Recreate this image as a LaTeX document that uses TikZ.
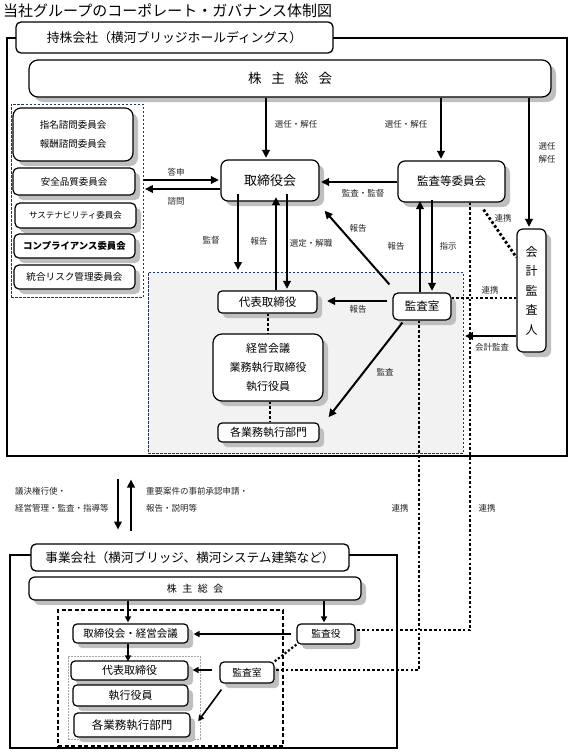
\documentclass[tikz,border=0pt]{standalone}
\usepackage{fontspec}
\setmainfont{Noto Sans CJK JP}
\usetikzlibrary{shadows,arrows.meta}
\definecolor{navy}{HTML}{1F3864}
\definecolor{shade}{HTML}{BFBFBF}
\definecolor{lightbg}{HTML}{F2F2F2}
\newcommand{\fsz}[1]{\fontsize{#1}{#1}\selectfont}
\begin{document}
\begin{tikzpicture}[x=1pt,y=-1pt,
 box/.style={draw=black, line width=1.2pt, fill=white, inner sep=0pt, rounded corners=#1, align=center,
   drop shadow={shadow xshift=5pt,shadow yshift=-5pt,fill=shade,opacity=1}},
 box/.default=6pt,
 plain/.style={draw=black, line width=1.3pt, fill=white, inner sep=0pt, rounded corners=#1, align=center},
 plain/.default=6pt,
 arr/.style={line width=2pt, -{Triangle[length=8pt,width=7.5pt]}, shorten >=1.5pt},
 arrs/.style={line width=1.6pt, -{Triangle[length=6pt,width=6pt]}, shorten >=1pt},
 dotline/.style={line width=2.8pt, dash pattern=on 2.6pt off 2.2pt},
 lbl/.style={font=\fsz{8.5}, inner sep=0pt, text=black!85},
]
\useasboundingbox (0,0) rectangle (573,755);

% title
\node[anchor=west, font=\fsz{15}, inner sep=0pt] (title) at (3,10.5) {当社グループのコーポレート・ガバナンス体制図};

% ===== holding company =====
\node[draw, line width=1.3pt, minimum width=560pt, minimum height=418pt, inner sep=0pt] (outerA) at (287,247) {};
\node[plain=5pt, minimum width=317pt, minimum height=31pt, font=\fsz{12.8}] (hdA) at (174.5,37.5) {持株会社（横河ブリッジホールディングス）};
\node[box=9pt, minimum width=522pt, minimum height=37pt, font=\fsz{13.5}] (gsmA) at (290,78.5) {株\hspace{10pt}主\hspace{10pt}総\hspace{10pt}会};

% committees
\node[draw=navy, line width=0.9pt, dash pattern=on 2.5pt off 1.5pt, minimum width=132pt, minimum height=193pt, inner sep=0pt] (cbox) at (77,200.5) {};
\node[box=8pt, minimum width=120pt, minimum height=53pt, font=\fontsize{9.5}{9.5}\selectfont] (c1) at (73,134.5) {指名諮問委員会\\[9.5pt]報酬諮問委員会};
\node[box=5pt, minimum width=122pt, minimum height=27pt, font=\fsz{9.5}] (c2) at (74,181.5) {安全品質委員会};
\node[box=5pt, minimum width=121pt, minimum height=25pt, font=\fsz{8.5}] (c3) at (75.5,215.5) {サステナビリティ委員会};
\node[box=5pt, minimum width=121pt, minimum height=24pt, font=\bfseries\fsz{9.4}] (c4) at (74.5,246) {コンプライアンス委員会};
\node[box=5pt, minimum width=121pt, minimum height=24pt, font=\fsz{9.6}] (c5) at (74.5,277) {統合リスク管理委員会};

% board etc
\node[box=7pt, minimum width=98pt, minimum height=41pt, font=\fsz{13}] (tori) at (270,180.5) {取締役会};
\node[box=7pt, minimum width=107pt, minimum height=41pt, font=\fsz{11.5}] (kansa) at (451.5,181.5) {監査等委員会};
\node[box=6pt, minimum width=29pt, minimum height=123pt, font=\fontsize{12}{19.5}\selectfont] (kaikei) at (531.5,290.5) {会\\計\\監\\査\\人};

% executive region
\node[draw=navy, line width=0.9pt, dash pattern=on 2.5pt off 1.5pt, fill=lightbg, minimum width=315pt, minimum height=181pt, inner sep=0pt] (exec) at (305.5,362.5) {};
\node[box=4pt, minimum width=99pt, minimum height=22pt, font=\fsz{11.5}] (daihyo) at (267.5,302) {代表取締役};
\node[box=9pt, minimum width=110pt, minimum height=67pt, font=\fontsize{11}{19}\selectfont] (keiei) at (268,367.5) {経営会議\\業務執行取締役\\執行役員};
\node[box=4pt, minimum width=101pt, minimum height=19pt, font=\fsz{11}] (kakubu) at (268.5,432.5) {各業務執行部門};
\node[box=5pt, minimum width=58pt, minimum height=27pt, font=\fsz{11.5}] (kshitsu) at (422,306.5) {監査室};

% arrows from shareholders meeting
\coordinate (a1) at (266,0);
\coordinate (a2) at (441,0);
\coordinate (a3) at (529,0);
\draw[arr] (a1 |- gsmA.south) -- (a1 |- tori.north);
\draw[arr] (a2 |- gsmA.south) -- (a2 |- kansa.north);
\draw[arr] (a3 |- gsmA.south) -- (a3 |- kaikei.north);
\node[lbl] (l1) at (296,124) {選任・解任};
\node[lbl] (l2) at (406,124) {選任・解任};
\node[lbl] (l3) at (547,146) {選任};
\node[lbl] (l4) at (547,159) {解任};

% committees <-> board
\coordinate (y1) at (0,180);
\coordinate (y2) at (0,189);
\draw[arr] (cbox.east |- y1) -- (tori.west |- y1);
\draw[arr] (tori.west |- y2) -- (cbox.east |- y2);
\node[lbl] (l5) at (176,172) {答申};
\node[lbl] (l6) at (176,201) {諮問};

% audit committee -> board
\coordinate (y3) at (0,182);
\draw[arr] (kansa.west |- y3) -- (tori.east |- y3);
\node[lbl] (l7) at (363,193) {監査・監督};

% board downwards
\coordinate (b1) at (238,0);
\coordinate (b2) at (276,0);
\coordinate (b3) at (287,0);
\draw[arr] ([yshift=8pt]b1 |- tori.south) -- (b1 |- exec.north);
\draw[arr] (b2 |- daihyo.north) -- ([yshift=6pt]b2 |- tori.south);
\draw[arr] ([yshift=8pt]b3 |- tori.south) -- (b3 |- daihyo.north);
\node[lbl] (l8) at (211,240) {監督};
\node[lbl] (l9) at (259,241) {報告};
\node[lbl] (l10) at (311,243) {選定・解職};

% audit office links
\coordinate (k1) at (420,0);
\coordinate (k2) at (432,0);
\draw[arr] (k1 |- kshitsu.north) -- ([yshift=3pt]k1 |- kansa.south);
\draw[arr] ([yshift=3pt]k2 |- kansa.south) -- (k2 |- kshitsu.north);
\node[lbl] (l11) at (396,246) {報告};
\node[lbl] (l12) at (448,246) {指示};
\draw[arr] ([shift={(-3,-8)}]kshitsu.north west) -- ([shift={(4,8)}]tori.south east);
\node[lbl] (l13) at (358,228) {報告};
\coordinate (y4) at (0,301);
\draw[arr] ([xshift=-5pt]kshitsu.west |- y4) -- ([xshift=8pt]daihyo.east |- y4);
\node[lbl] (l14) at (358,309) {報告};
\draw[arr] ([shift={(10,2)}]kshitsu.south west) -- ([shift={(8,-4)}]kakubu.north east);
\node[lbl] (l15) at (385,372) {監査};
\coordinate (y5) at (0,336);
\draw[arr] (kaikei.west |- y5) -- (exec.east |- y5);
\node[lbl] (l16) at (492,347) {会計監査};

% dotted links inside holding
\coordinate (e1) at (268,0);
\coordinate (e2) at (270,0);
\draw[dotline] (e1 |- daihyo.south) -- (e1 |- keiei.north);
\draw[dotline] (e2 |- keiei.south) -- (e2 |- kakubu.north);
\coordinate (y6) at (0,298);
\draw[dotline] (kshitsu.east |- y6) -- (kaikei.west |- y6);
\node[lbl] (l17) at (490,290) {連携};
\draw[dotline] ([shift={(-22,7)}]kansa.south east) -- ([yshift=-29pt]kaikei.north west);
\node[lbl] (l18) at (503,218) {連携};

% ===== group <-> operating companies =====
\coordinate (m1s) at (118,479);
\coordinate (m1e) at (118,531);
\coordinate (m2s) at (131,531);
\coordinate (m2e) at (131,478);
\draw[arr] (m1s) -- (m1e);
\draw[arr] (m2s) -- (m2e);
\node[lbl, anchor=west] (l19) at (15,491) {議決権行使・};
\node[lbl, anchor=west] (l20) at (15,508) {経営管理・監査・指導等};
\node[lbl, anchor=west] (l21) at (146,491) {重要案件の事前承認申請・};
\node[lbl, anchor=west] (l22) at (146,508) {報告・説明等};
\node[lbl] (l23) at (400,508) {連携};
\node[lbl] (l24) at (487,508) {連携};

% ===== operating company =====
\node[draw, line width=1.3pt, minimum width=387pt, minimum height=193pt, inner sep=0pt] (outerB) at (203.5,651.5) {};
\node[plain=5pt, minimum width=318pt, minimum height=27pt, font=\fsz{12.6}] (hdB) at (190,557.5) {事業会社（横河ブリッジ、横河システム建築など）};
\node[box=6pt, minimum width=332pt, minimum height=23pt, font=\fsz{10}] (gsmB) at (195,588.5) {株\hspace{5.5pt}主\hspace{5.5pt}総\hspace{5.5pt}会};
\node[draw, line width=1.1pt, dash pattern=on 4pt off 2.5pt, minimum width=225pt, minimum height=136pt, inner sep=0pt] (dashB) at (170.5,678) {};
\node[draw=black!35, line width=0.8pt, dash pattern=on 2pt off 1pt, minimum width=132pt, minimum height=83pt, inner sep=0pt] (grayB) at (134,697.5) {};
\node[box=4pt, minimum width=115pt, minimum height=19pt, font=\fsz{10.5}] (tk) at (130.5,633.5) {取締役会・経営会議};
\node[box=4pt, minimum width=117pt, minimum height=19pt, font=\fsz{11}] (d2) at (129.5,670.5) {代表取締役};
\node[box=4pt, minimum width=115pt, minimum height=21pt, font=\fsz{11}] (sy) at (130.5,695.5) {執行役員};
\node[box=4pt, minimum width=116pt, minimum height=24pt, font=\fsz{11.5}] (kb2) at (132,725) {各業務執行部門};
\node[box=4pt, minimum width=54pt, minimum height=21pt, font=\fsz{9.8}] (ks2) at (247,672.5) {監査室};
\node[box=4pt, minimum width=58pt, minimum height=20pt, font=\fsz{9.8}] (kyk) at (326,634) {監査役};

\coordinate (g1) at (128,0);
\coordinate (g2) at (324,0);
\draw[arrs] (g1 |- gsmB.south) -- (g1 |- tk.north);
\draw[arrs] (g2 |- gsmB.south) -- (g2 |- kyk.north);
\draw[arrs] (g1 |- tk.south) -- ([yshift=-2pt]g1 |- d2.north);
\coordinate (y7) at (0,634);
\coordinate (y8) at (0,670);
\draw[arrs] ([xshift=-5pt]kyk.west |- y7) -- ([xshift=4pt]tk.east |- y7);
\draw[arrs] ([xshift=-7pt]ks2.west |- y8) -- ([xshift=3pt]d2.east |- y8);
\draw[arrs] ([shift={(2,6)}]ks2.south west) -- ([shift={(7,-3)}]kb2.east);
\draw[dotline, line width=2.2pt, dash pattern=on 2.2pt off 2pt] (kyk.south west) -- (ks2.north east);

% long dotted links
\coordinate (x1) at (470,0);
\coordinate (x2) at (419,0);
\coordinate (y9) at (0,630);
\draw[dotline] (x1 |- kansa.south) -- (x1 |- y9) -- (kyk.east |- y9);
\draw[dotline] (x2 |- kshitsu.south) -- (x2 |- y8) -- (ks2.east |- y8);
\end{tikzpicture}
\end{document}
